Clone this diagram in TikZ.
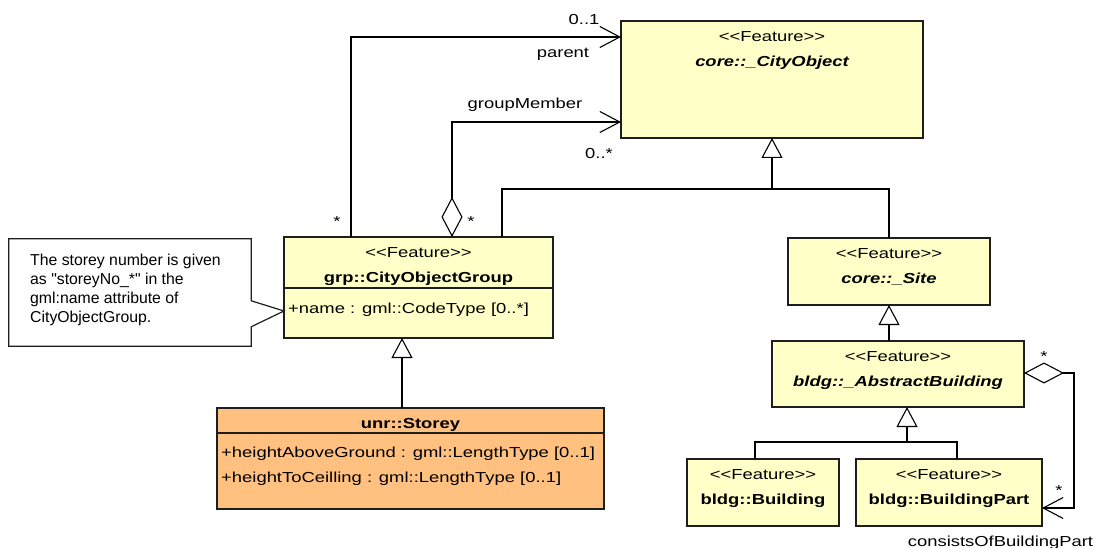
\documentclass[tikz,border=0pt]{standalone}
\usepackage{fontspec}
\setmainfont{Liberation Sans}[FakeStretch=1.27,Ligatures=TeXOff]
\newfontfamily\notafonte{Liberation Sans}[Ligatures=TeXOff]
\usepackage{tikz}
\usetikzlibrary{arrows.meta,positioning}
\definecolor{amareloclaro}{RGB}{255,255,200}
\definecolor{laranjaclaro}{RGB}{255,192,128}
\definecolor{contorno}{RGB}{30,30,30}
\newcommand{\tamanho}{\fontsize{14.5}{19}\selectfont}
\tikzset{
  classe/.style={rectangle,draw=contorno,line width=1.2pt,fill=amareloclaro,
    inner sep=0pt,outer sep=0pt},
  rotulo/.style={anchor=base,inner sep=0pt,font=\tamanho},
  nome/.style={rotulo,font=\tamanho\bfseries},
  nomeabstrato/.style={rotulo,font=\tamanho\bfseries\itshape},
  atributo/.style={anchor=base west,inner sep=0pt,font=\tamanho},
  divisao/.style={draw=contorno,line width=1.2pt},
  ligacao/.style={line width=1.1pt},
  assoc/.style={line width=1.1pt,-{Straight Barb[length=20pt,width=21pt]}},
  agreg/.style={line width=1.1pt,
    {Diamond[open,fill=white,length=40pt,width=21pt]}-{Straight Barb[length=20pt,width=21pt]}},
  heranca/.style={line width=1.1pt,-{Triangle[open,fill=white,length=20pt,width=21pt]}}
}

\begin{document}
\begin{tikzpicture}[x=1pt,y=-1pt,font=\tamanho]
  \useasboundingbox (0,0) rectangle (1095,548);
  % classes
  \node[classe,minimum width=302,minimum height=117] (cityobj) at (772,79.5) {};
  \node[classe,minimum width=269,minimum height=101] (grp) at (418.5,287.5) {};
  \node[classe,fill=laranjaclaro,minimum width=387,minimum height=101] (storey) at (410.5,458.5) {};
  \node[classe,minimum width=202,minimum height=67] (site) at (889,271.5) {};
  \node[classe,minimum width=252,minimum height=66] (abstract) at (898,374) {};
  \node[classe,minimum width=152,minimum height=67] (building) at (763,492.5) {};
  \node[classe,minimum width=186,minimum height=67] (part) at (949,492.5) {};
  \foreach \c in {cityobj,grp,site,abstract,building,part}
    {\node[rotulo] (est\c) at ([yshift=-20.5]\c.north) {<<Feature>>};}
  \node[nomeabstrato] (nomecityobj) at ([yshift=-45.5]cityobj.north) {core::\_CityObject};
  \node[nome] (nomegrp) at ([yshift=-45.5]grp.north) {grp::CityObjectGroup};
  \node[nomeabstrato] (nomesite) at ([yshift=-45.5]site.north) {core::\_Site};
  \node[nomeabstrato] (nomeabstract) at ([yshift=-45.5]abstract.north) {bldg::\_AbstractBuilding};
  \node[nome] (nomebuilding) at ([yshift=-45.5]building.north) {bldg::Building};
  \node[nome] (nomepart) at ([yshift=-45.5]part.north) {bldg::BuildingPart};
  \node[nome] (nomestorey) at ([yshift=-20.5]storey.north) {unr::Storey};
  % atributos
  \draw[divisao] ([yshift=-51]grp.north west) -- ([yshift=-51]grp.north east);
  \node[atributo] (attrnome) at ([xshift=4,yshift=-76]grp.north west) {+name : gml::CodeType [0..*]};
  \draw[divisao] ([yshift=-25]storey.north west) -- ([yshift=-25]storey.north east);
  \node[atributo] (attraltura) at ([xshift=4,yshift=-49]storey.north west)
    {+heightAboveGround : gml::LengthType [0..1]};
  \node[atributo] (attrteto) at ([xshift=4,yshift=-74]storey.north west)
    {+heightToCeilling : gml::LengthType [0..1]};
  % nota
  \node[inner sep=0pt,minimum width=242,minimum height=107] (nota) at (130,292.5) {};
  \draw[divisao,fill=white] (nota.north west) -- (nota.north east)
    -- ([yshift=-62]nota.north east) -- (grp.west |- 0,311)
    -- ([yshift=-88]nota.north east) -- (nota.south east) -- (nota.south west) -- cycle;
  \node[anchor=north west,inner sep=0pt,align=left,font=\notafonte\fontsize{15.8}{19}\selectfont]
    (notatexto) at (30,253.7)
    {The storey number is given\\as "storeyNo\_*" in the\\gml:name attribute of\\CityObjectGroup.};
  % associacoes
  \draw[assoc] ([xshift=-67.5]grp.north) |- ([yshift=-16]cityobj.north west);
  \draw[agreg] ([xshift=33.5]grp.north) |- ([yshift=-101]cityobj.north west);
  \draw[agreg] ([yshift=1]abstract.east) -- ++(50,0) |- ([yshift=-15.5]part.east);
  % heranca
  \coordinate (juncao) at (cityobj.south |- 0,189);
  \draw[ligacao] ([xshift=83.5]grp.north) |- (site.north |- juncao) -- (site.north);
  \draw[heranca] (juncao) -- (cityobj.south);
  \draw[heranca] ([xshift=-16.5]grp.south |- storey.north) -- ([xshift=-16.5]grp.south);
  \draw[heranca] (abstract.north -| site.south) -- (site.south);
  \coordinate (juncao2) at ([xshift=9]abstract.south |- 0,442);
  \draw[ligacao] ([xshift=-8]building.north) |- (juncao2) -| ([xshift=8]part.north);
  \draw[heranca] (juncao2) -- (juncao2 |- abstract.south);
  % papeis e multiplicidades
  \node[rotulo] (multpai) at (584,25) {0..1};
  \node[rotulo] (papelpai) at (563,58) {parent};
  \node[rotulo] (papelmembro) at (525,109) {groupMember};
  \node[rotulo] (multmembro) at (599,159) {0..*};
  \node[rotulo] (multfilho) at (337,227) {*};
  \node[rotulo] (multgrupo) at (471,227) {*};
  \node[rotulo] (multtodo) at (1044,361) {*};
  \node[rotulo] (multparte) at (1059,495) {*};
  \node[rotulo] (papelparte) at (1000.5,546) {consistsOfBuildingPart};
\end{tikzpicture}
\end{document}
